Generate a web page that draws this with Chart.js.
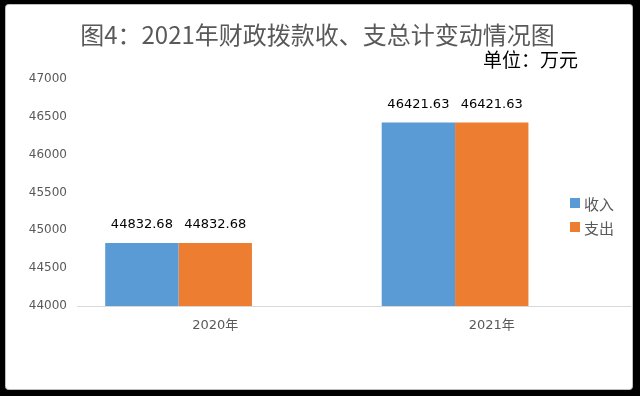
<!DOCTYPE html>
<html>
<head>
<meta charset="utf-8">
<script src="https://cdn.jsdelivr.net/npm/chart.js@4/dist/chart.umd.min.js"></script>
<style>
  html, body { margin: 0; padding: 0; background: #000; }
  #wrap { width: 640px; height: 396px; }
</style>
</head>
<body>
<div id="wrap"><canvas id="bar-chart"></canvas></div>
<script>
const years = ["2020年", "2021年"];
const income = [44832.68, 46421.63];
const expense = [44832.68, 46421.63];
const seriesNames = ["收入", "支出"];
const seriesColors = ["#5B9BD5", "#ED7D31"];

const cjk = "'DejaVu Sans', 'Noto Sans CJK SC', sans-serif";

// white panel behind the chart
const panel = {
    id: 'panel',
    beforeDraw(chart) {
        const ctx = chart.ctx;
        ctx.save();
        ctx.fillStyle = "#000";
        ctx.fillRect(0, 0, chart.width, chart.height);
        ctx.fillStyle = "#fff";
        ctx.strokeStyle = "#bfbfbf";
        ctx.lineWidth = 1;
        ctx.beginPath();
        ctx.roundRect(5.5, 4.5, 627, 385, 3);
        ctx.fill();
        ctx.stroke();
        ctx.restore();
    }
};

// value labels, unit text and legend
const extras = {
    id: 'extras',
    afterDatasetsDraw(chart) {
        const ctx = chart.ctx;
        ctx.save();
        ctx.font = "13px " + cjk;
        ctx.fillStyle = "#000";
        ctx.textAlign = "center";
        ctx.textBaseline = "middle";
        chart.data.datasets.forEach((ds, i) => {
            if (!ds.label) return;
            chart.getDatasetMeta(i).data.forEach((bar, j) => {
                ctx.fillText(ds.data[j].toFixed(2), bar.x, bar.y - 18);
            });
        });

        ctx.font = "19px 'Noto Sans CJK SC', sans-serif";
        ctx.textAlign = "right";
        ctx.fillText("单位：万元", 578, 60);

        ctx.font = "15px 'Noto Sans CJK SC', sans-serif";
        ctx.textAlign = "left";
        seriesNames.forEach((name, i) => {
            const y = 203 + i * 24;
            ctx.fillStyle = seriesColors[i];
            ctx.fillRect(570, y - 5, 10, 10);
            ctx.fillStyle = "#595959";
            ctx.fillText(name, 584, y + 1);
        });
        ctx.restore();
    }
};

new Chart(document.getElementById("bar-chart"), {
    type: 'bar',
    data: {
        labels: years,
        datasets: [
            { label: seriesNames[0], data: income, backgroundColor: seriesColors[0] },
            { label: seriesNames[1], data: expense, backgroundColor: seriesColors[1] },
            // empty slot so the pair sits left of the label, like the original
            { label: "", data: [null, null], backgroundColor: "rgba(0,0,0,0)" }
        ]
    },
    options: {
        responsive: true,
        maintainAspectRatio: false,
        animation: false,
        datasets: {
            bar: { barPercentage: 1, categoryPercentage: 0.796 }
        },
        layout: { padding: { top: 5, left: 5, right: 10, bottom: 60 } },
        plugins: {
            legend: { display: false },
            tooltip: { enabled: false },
            title: {
                display: true,
                text: "图4：2021年财政拨款收、支总计变动情况图",
                color: "#595959",
                font: { family: "'Noto Sans CJK SC', sans-serif", size: 24, weight: 'normal' },
                padding: { top: 15, bottom: 30 }
            }
        },
        scales: {
            x: {
                grid: { display: false, drawTicks: false },
                border: { display: true, color: "#d9d9d9" },
                ticks: { color: "#595959", font: { family: cjk, size: 13 }, padding: 12 },
                afterFit(scale) { scale.height = 30; }
            },
            y: {
                min: 44000,
                max: 47000,
                grid: { display: false, drawTicks: false },
                border: { display: false },
                ticks: {
                    stepSize: 500,
                    color: "#595959",
                    font: { family: cjk, size: 12 },
                    padding: 10,
                    callback: (v) => String(v)
                },
                afterFit(scale) { scale.width = 72; }
            }
        }
    },
    plugins: [panel, extras]
});
</script>
</body>
</html>
